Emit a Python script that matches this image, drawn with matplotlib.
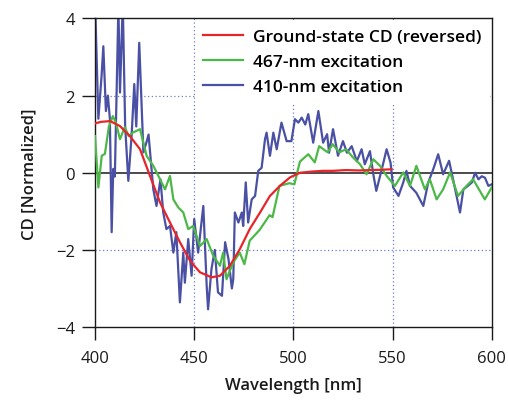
import numpy as np
import matplotlib
matplotlib.use('Agg')
import matplotlib.pyplot as plt

plt.rcParams['font.family'] = ['Open Sans', 'DejaVu Sans']

# ground-state CD (reversed)
wl_gs = [400, 403, 407.6, 412.6, 417.6, 422.7, 427.7, 432.8, 437.8, 442.8, 447.9,
         452.9, 458.7, 463, 468, 473, 478, 483.2, 488.2, 493.2, 498.3, 503.3, 509,
         515, 520, 526.6, 533, 540, 545, 549.5]
cd_gs = [1.28, 1.32, 1.34, 1.21, 0.95, 0.61, -0.08, -0.77, -1.29, -1.80, -2.28,
         -2.58, -2.71, -2.67, -2.41, -1.98, -1.46, -1.03, -0.60, -0.34, -0.12, 0.0, 0.03,
         0.05, 0.05, 0.07, 0.06, 0.07, 0.08, 0.09]

# 467-nm excitation
wl_467 = [400, 401.7, 403.4, 405, 407, 409, 410.5, 412.6, 415, 417, 419, 422.7, 426,
          429.4, 432.8, 435.3, 437.8, 439.5, 442, 444.5, 447, 449.5, 452.9, 456.3,
          459.6, 463, 464.6, 466.3, 469.7, 473, 475.3, 478, 483, 488, 489.5, 493, 498,
          500.5, 503.3, 507.5, 510.8, 513, 517.3, 519.8, 523.2, 526.6, 530, 533.6,
          536.9, 540.3, 543.7, 547, 551.2, 555.4, 558.8, 562, 566.3, 568.8, 572.2,
          575.5, 579, 583, 587.3, 590.6, 596.5, 600]
cd_467 = [0.95, -0.38, 0.44, 0.49, 1.2, 1.47, 1.3, 0.87, 1.18, 0.95, 1.04, 1.13, 0.44,
          0.18, -0.17, -0.43, -0.08, -0.69, -0.9, -1.03, -1.46, -1.38, -1.9, -1.72,
          -2.15, -2.41, -2.07, -2.76, -2.32, -2.07, -2.37, -1.76, -1.48, -1.1, -1.15,
          -0.34, -0.27, -0.3, 0.29, 0.48, 0.27, 0.69, 0.53, 0.74, 0.53, 0.61, 0.4, 0.22,
          -0.04, 0.35, 0.18, -0.08, -0.34, 0.01, -0.34, 0.18, -0.43, -0.17, -0.69,
          -0.43, 0.01, -0.6, -0.34, -0.17, -0.69, -0.38]

# 410-nm excitation
wl_410 = [400, 401.7, 403.3, 404.2, 405.5, 406.5, 407.5, 408.4, 409.2, 410, 411.8,
          412.6, 414, 415.2, 416.8, 418.5, 419.8, 420.8, 422.3, 424.4, 426, 427, 429.4,
          431, 433, 434.4, 436, 437.8, 439.5, 441, 442.8, 444.5, 445.3, 447, 448.7, 450,
          452, 454.6, 456.3, 457, 458.7, 460.4, 462, 464, 465.6, 467.3, 469, 469.7,
          470.5, 472.3, 474, 474.7, 476, 477.2, 479, 480.7, 482.3, 484, 485.7, 486.5,
          488.2, 489.9, 491.6, 494, 496.6, 499, 500.8, 502.5, 504.2, 506, 507.5, 510,
          512.6, 515, 517, 518, 520, 522.5, 525, 527, 529.4, 532, 534.4, 536, 538.6,
          540.3, 541.8, 545, 547, 549, 550.3, 553, 555.4, 557, 558.8, 562, 565.5, 568,
          570.5, 573, 575.5, 578.5, 580.5, 584, 585.7, 588, 590, 591.6, 593.3, 595,
          596.6, 598.3, 600]
cd_410 = [4.5, 1.4, 2.5, 3.28, 1.6, 2.0, 1.4, -1.54, 0.1, -0.1, 4.3,
          2.08, 4.4, 1.21, -0.21, 1.0, 2.3, 1.2, 3.37, 0.53, 0.8, 0.99, -0.43,
          -0.86, -0.17, -1.03, -1.46, -1.38, -2.07, -1.54, -3.36, -2.07, -2.85, -1.72, -2.67, -1.2,
          -2.07, -0.86, -2.93, -3.54, -2.5, -2.0, -3.1, -3.19, -1.8, -2.24, -3.0, -2.76,
          -1.03, -1.29, -1.03, -1.38, -0.25, -1.29, -0.69, -0.6, 0.05, 0.13, 0.87, 1.04,
          0.44, 1.04, 0.61, 1.3, 0.82, 0.82, 1.39, 1.3, 1.43, 1.25, 1.52, 0.78,
          1.6, 0.78, 1.0, 0.52, 1.13, 0.44, 0.82, 0.52, 0.69, 0.3, 0.61, 0.22, 0.56,
          -0.04, -0.47, 0.18, 0.61, 0.26, -0.38, -0.6, -0.25, 0.05, -0.34, -0.52, -0.86, -0.25,
          0.09, 0.48, -0.04, 0.31, -0.17, -1.03, -0.43, -0.34, -0.25, 0.0, -0.17, -0.09,
          -0.13, -0.34, -0.3]

fig = plt.figure(figsize=(5.08, 4.06), dpi=100)
ax = fig.add_axes([0.187, 0.192, 0.781, 0.76])

# 网格线
grid_c = '#6f7fd0'
for x in [450, 500, 550]:
    ax.axvline(x, color=grid_c, ls=(0, (1, 2)), lw=0.9, zorder=1)
for y in [2, -2]:
    ax.axhline(y, color=grid_c, ls=(0, (1, 2)), lw=0.9, zorder=1)
ax.axhline(0, color='#1a1a1a', lw=1.1, zorder=1.5)

ax.plot(wl_410, cd_410, color='#4a50a3', lw=1.6, label='410-nm excitation', zorder=2)
ax.plot(wl_467, cd_467, color='#4cb848', lw=1.6, label='467-nm excitation', zorder=3)
ax.plot(wl_gs, cd_gs, color='#e8242b', lw=1.6, label='Ground-state CD (reversed)', zorder=4)

ax.set_xlim(400, 600)
ax.set_ylim(-4, 4)
ax.set_xticks([400, 450, 500, 550, 600])
ax.set_yticks([-4, -2, 0, 2, 4])
ax.tick_params(axis='x', direction='out', length=9.5, width=1, labelsize=12, pad=7,
               colors='#1a1a1a', top=False)
ax.tick_params(axis='y', direction='out', length=9.5, width=1, labelsize=12, pad=5,
               colors='#1a1a1a', right=False)
for s in ax.spines.values():
    s.set_linewidth(1)
    s.set_color('#1a1a1a')

ax.set_xlabel('Wavelength [nm]', fontsize=12, color='#1a1a1a', labelpad=8,
              fontweight='semibold')
ax.set_ylabel('CD [Normalized]', fontsize=12, color='#1a1a1a', labelpad=13,
              fontweight='semibold')

h, l = ax.get_legend_handles_labels()
leg = ax.legend(h[::-1], l[::-1], loc='upper right', frameon=True,
                prop={'size': 12.5, 'weight': 'semibold'},
                facecolor='white', edgecolor='none', framealpha=1, fancybox=False,
                handlelength=2.3, handletextpad=0.55, labelspacing=0.52,
                borderaxespad=0.1, borderpad=0.5)

plt.savefig('out.png', dpi=100)
